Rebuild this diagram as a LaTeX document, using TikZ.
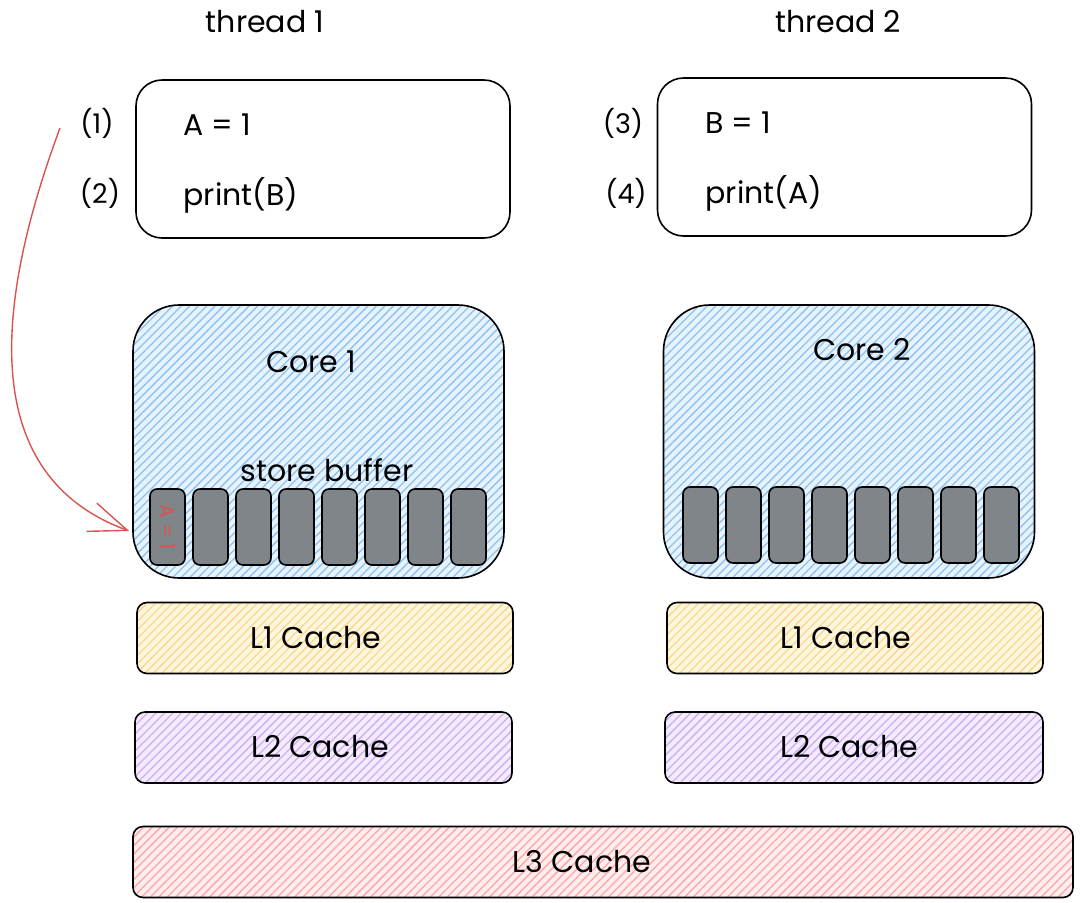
\documentclass[tikz,border=0pt]{standalone}
\usepackage{fontspec}
\setmainfont{Poppins}
\usetikzlibrary{patterns.meta,arrows.meta}
\definecolor{coreline}{HTML}{8CC2EF}
\definecolor{corebg}{HTML}{E6F2FC}
\definecolor{lonel}{HTML}{F9D88A}
\definecolor{lonebg}{HTML}{FFF6E0}
\definecolor{ltwol}{HTML}{CDAEF2}
\definecolor{ltwobg}{HTML}{F4EBFF}
\definecolor{lthreel}{HTML}{FBA5A5}
\definecolor{lthreebg}{HTML}{FFEDED}
\definecolor{cellgray}{HTML}{808589}
\definecolor{arrred}{HTML}{D9534F}
\begin{document}
\begin{tikzpicture}[x=1pt,y=-1pt,
  every node/.style={font=\fontsize{30}{34}\selectfont, text=black},
  box/.style={draw=black, line width=1.6pt, inner sep=0pt, minimum width=#1},
  hatch/.style 2 args={preaction={fill=#2}, pattern={Lines[angle=45,distance=6pt,line width=1.3pt]}, pattern color=#1},
  codebox/.style={box=374pt, minimum height=158pt, rounded corners=26pt},
  corebox/.style={box=371pt, minimum height=273pt, rounded corners=46pt, hatch={coreline}{corebg}},
  cachebox/.style={box=#1, minimum height=71pt, rounded corners=10pt},
  cell/.style={draw=black, line width=1.6pt, fill=cellgray, rounded corners=7pt, minimum width=35pt, minimum height=76pt, inner sep=0pt},
  lbl/.style={font=\fontsize{27}{30}\selectfont},
  redarrow/.style={draw=arrred, line width=1.4pt, -{Straight Barb[length=38pt,width=30pt,line width=1.4pt]}}
]
\useasboundingbox (0,0) rectangle (1080,903);
\fill[white] (0,0) rectangle (1080,903);

% thread titles
\node (t1) at (265,22) {thread 1};
\node (t2) at (838,22) {thread 2};

% code boxes
\node[codebox] (code1) at (323,159) {};
\node[codebox] (code2) at (844.5,157) {};
\node[lbl] (n1) at (97,123) {(1)};
\node[lbl] (n2) at (100,193) {(2)};
\node[lbl] (n3) at (623,123) {(3)};
\node[lbl] (n4) at (626,193) {(4)};
\node[anchor=west] (s1) at (180,125) {A = 1};
\node[anchor=west] (s2) at (180,195) {print(B)};
\node[anchor=west] (s3) at (702,123) {B = 1};
\node[anchor=west] (s4) at (702,193) {print(A)};

% cores
\node[corebox] (core1) at (318.5,441.5) {};
\node[corebox] (core2) at (849,441.5) {};
\node (core1lbl) at (311,362) {Core 1};
\node (core2lbl) at (862,350) {Core 2};
\node (sb) at (327,470) {store buffer};

\foreach \i in {1,...,8} {
  \node[cell] (a\i) at ({167.5+43*(\i-1)},527) {};
  \node[cell] (b\i) at ({700.5+43*(\i-1)},525) {};
}
\node[rotate=-90, text=arrred, font=\fontsize{20}{22}\selectfont] (aval) at (a1) {A = 1};

% caches
\node[cachebox=376pt, hatch={lonel}{lonebg}] (l1a) at (325,638) {};
\node[cachebox=376pt, hatch={lonel}{lonebg}] (l1b) at (855,638) {};
\node[cachebox=377pt, hatch={ltwol}{ltwobg}] (l2a) at (323.5,747.5) {};
\node[cachebox=378pt, hatch={ltwol}{ltwobg}] (l2b) at (854,747.5) {};
\node[cachebox=940pt, hatch={lthreel}{lthreebg}] (l3) at (603,862) {};
\node (l1alabel) at (316,638) {L1 Cache};
\node (l1blabel) at (846,638) {L1 Cache};
\node (l2alabel) at (320,747) {L2 Cache};
\node (l2blabel) at (849,747) {L2 Cache};
\node (l3label) at (582,862) {L3 Cache};

% arrow
\coordinate (arrstart) at (60,128);
\draw[redarrow] (arrstart) .. controls (-15,330) and (-10,480) .. ([xshift=-20pt,yshift=-4pt]a1.west);
\end{tikzpicture}
\end{document}
